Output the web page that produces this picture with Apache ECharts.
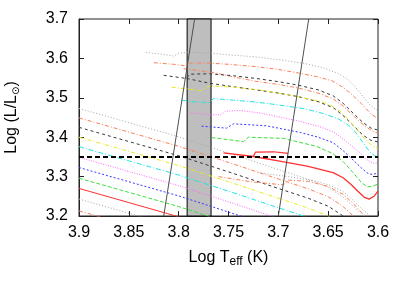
<!DOCTYPE html>
<html><head><meta charset="utf-8">
<script src="https://cdn.jsdelivr.net/npm/echarts@6/dist/echarts.min.js"></script>
<style>html,body{margin:0;padding:0;background:#fff}#c{width:407px;height:284px}</style>
</head><body><div id="c"></div><script>
// ---- axis ticks ----
const xTickLabels = ['3.6','3.65','3.7','3.75','3.8','3.85','3.9'];
const yTickLabels = ['3.2','3.3','3.4','3.5','3.6','3.7'];
// ---- reference features ----
const bandEdges = [3.7915, 3.7675];
const refLum = 3.35;
const refLine = [[3.9, refLum], [3.6, refLum]];
const edgeLineA = [[3.815, 3.2], [3.784, 3.7]];
const edgeLineB = [[3.700, 3.2], [3.6695, 3.7]];
// ---- upper tracks [logTeff, logL] ----
const upGray = [[3.833,3.615],[3.818,3.611],[3.805,3.606],[3.800,3.613],[3.790,3.616],[3.770,3.614],[3.750,3.609],[3.723,3.604],[3.700,3.597],[3.673,3.587],[3.655,3.576],[3.640,3.562],[3.630,3.546],[3.623,3.528],[3.615,3.503],[3.608,3.482],[3.600,3.466]];
const upOrange = [[3.825,3.589],[3.805,3.585],[3.792,3.581],[3.788,3.588],[3.769,3.588],[3.750,3.585],[3.722,3.579],[3.700,3.572],[3.680,3.563],[3.660,3.553],[3.646,3.543],[3.636,3.528],[3.626,3.508],[3.615,3.481],[3.607,3.459],[3.600,3.447]];
const upOrange2 = [[3.795,3.574],[3.765,3.564],[3.745,3.553],[3.723,3.542],[3.700,3.534],[3.680,3.525],[3.660,3.512],[3.645,3.497],[3.635,3.479],[3.625,3.455],[3.615,3.432],[3.606,3.416],[3.600,3.410]];
const upBlack = [[3.815,3.557],[3.792,3.549],[3.789,3.560],[3.769,3.561],[3.745,3.556],[3.722,3.549],[3.700,3.541],[3.680,3.532],[3.660,3.520],[3.645,3.505],[3.635,3.486],[3.625,3.461],[3.615,3.437],[3.607,3.423],[3.600,3.418]];
const upBlack2 = [[3.792,3.549],[3.769,3.537],[3.745,3.528],[3.722,3.520],[3.700,3.512],[3.680,3.503],[3.660,3.490],[3.645,3.475],[3.635,3.455],[3.625,3.430],[3.615,3.405],[3.607,3.392],[3.600,3.388]];
const upYellow = [[3.807,3.527],[3.790,3.522],[3.778,3.518],[3.769,3.530],[3.745,3.527],[3.722,3.521],[3.690,3.508],[3.656,3.490],[3.645,3.478],[3.636,3.462],[3.628,3.440],[3.620,3.415],[3.612,3.392],[3.605,3.377],[3.600,3.372]];
const upCyan = [[3.797,3.494],[3.785,3.490],[3.769,3.488],[3.765,3.498],[3.745,3.494],[3.722,3.489],[3.700,3.482],[3.673,3.472],[3.655,3.460],[3.640,3.447],[3.630,3.431],[3.623,3.414],[3.615,3.386],[3.608,3.362],[3.603,3.352],[3.600,3.351]];
const upMagenta = [[3.788,3.462],[3.769,3.457],[3.758,3.457],[3.753,3.466],[3.738,3.468],[3.720,3.462],[3.700,3.452],[3.678,3.440],[3.660,3.428],[3.645,3.414],[3.632,3.390],[3.618,3.360],[3.610,3.341],[3.605,3.334],[3.600,3.335]];
const upBlue = [[3.777,3.428],[3.752,3.423],[3.745,3.434],[3.712,3.429],[3.678,3.412],[3.660,3.400],[3.645,3.386],[3.635,3.366],[3.625,3.342],[3.615,3.318],[3.610,3.308],[3.605,3.305],[3.600,3.310]];
const upGreen = [[3.767,3.399],[3.735,3.389],[3.730,3.400],[3.695,3.397],[3.662,3.377],[3.645,3.358],[3.635,3.338],[3.625,3.310],[3.617,3.286],[3.611,3.274],[3.606,3.275],[3.600,3.281]];
const upRed = [[3.755,3.360],[3.725,3.351],[3.700,3.340],[3.670,3.326],[3.645,3.310],[3.635,3.297],[3.627,3.280],[3.620,3.262],[3.614,3.248],[3.609,3.243],[3.604,3.250],[3.600,3.263]];
const upRedLoop = [[3.725,3.351],[3.723,3.362],[3.705,3.363],[3.690,3.359]];
// ---- lower tracks ----
const loGray = [[3.900,3.473],[3.850,3.437],[3.800,3.401],[3.750,3.360],[3.700,3.318],[3.670,3.293],[3.650,3.273],[3.635,3.248],[3.620,3.213],[3.610,3.190]];
const loOrange = [[3.900,3.449],[3.850,3.413],[3.800,3.377],[3.750,3.336],[3.700,3.294],[3.670,3.269],[3.650,3.249],[3.635,3.224],[3.620,3.189]];
const loBlack = [[3.900,3.425],[3.850,3.389],[3.800,3.353],[3.750,3.312],[3.700,3.270],[3.670,3.245],[3.650,3.225],[3.635,3.200],[3.620,3.165]];
const loYellow = [[3.900,3.400],[3.850,3.364],[3.800,3.328],[3.750,3.287],[3.700,3.245],[3.670,3.220],[3.650,3.200],[3.635,3.175]];
const loCyan = [[3.900,3.376],[3.850,3.340],[3.800,3.304],[3.750,3.263],[3.700,3.221],[3.670,3.196]];
const loMagenta = [[3.900,3.349],[3.850,3.313],[3.800,3.277],[3.750,3.236],[3.700,3.194]];
const loBlue = [[3.900,3.323],[3.850,3.287],[3.800,3.251],[3.750,3.210],[3.700,3.168]];
const loGreen = [[3.900,3.296],[3.850,3.260],[3.800,3.224],[3.750,3.183]];
const loRed = [[3.900,3.270],[3.850,3.234],[3.800,3.198]];
const loGray2 = [[3.900,3.243],[3.850,3.207],[3.800,3.171]];
const loOrange2 = [[3.900,3.213],[3.850,3.177]];
const loOrangeB = [[3.760,3.300],[3.740,3.292],[3.728,3.287],[3.695,3.279],[3.690,3.291],[3.670,3.288],[3.650,3.275],[3.635,3.255],[3.625,3.232],[3.615,3.205],[3.608,3.190]];
const loGrayB = [[3.720,3.310],[3.690,3.300],[3.665,3.290],[3.648,3.278],[3.635,3.262],[3.625,3.240],[3.615,3.215],[3.605,3.195]];

const C = {gray:'#a4a4a4', orange:'#f88058', black:'#383838', yellow:'#e8e820', cyan:'#20e4e4', magenta:'#ff66ff', blue:'#3838ff', green:'#40dc40', red:'#ff3030'};
const T = {gray:[1,2], orange:[4,2,1,2], black:[3,3], yellow:[4,2,1,2], cyan:[5,2,1,2], magenta:[1,1.5], blue:[2,2], green:[4,2], red:'solid'};

function track(data, key, w) {
  return {type:'line', data:data, symbol:'none', showSymbol:false, silent:true, clip:true, z:3,
    lineStyle:{color:C[key], type:T[key], width:w||1}, xAxisIndex:0, yAxisIndex:0};
}

const series = [
  {type:'line', data:[], xAxisIndex:0, yAxisIndex:0, z:1, silent:true,
   markArea:{silent:true, itemStyle:{color:'#bebebe', borderColor:'#000', borderWidth:1},
     data:[[{xAxis:bandEdges[0]},{xAxis:bandEdges[1]}]]}},
  track(loGray,'gray'), track(loOrange,'orange'), track(loBlack,'black'), track(loYellow,'yellow'),
  track(loCyan,'cyan'), track(loMagenta,'magenta'), track(loBlue,'blue'), track(loGreen,'green'),
  track(loRed,'red'), track(loGray2,'gray'), track(loOrange2,'orange'),
  track(loOrangeB,'orange'), track(loGrayB,'gray'),
  track(upGray,'gray'), track(upOrange,'orange'), track(upOrange2,'orange'), track(upBlack,'black'),
  track(upBlack2,'black'), track(upYellow,'yellow'), track(upCyan,'cyan'), track(upMagenta,'magenta'),
  track(upBlue,'blue'), track(upGreen,'green'), track(upRed,'red',1.3), track(upRedLoop,'red',1.2),
  {type:'line', data:edgeLineA, symbol:'none', silent:true, z:5, lineStyle:{color:'#505050', width:1}},
  {type:'line', data:edgeLineB, symbol:'none', silent:true, z:5, lineStyle:{color:'#505050', width:1}},
  {type:'line', data:refLine, symbol:'none', silent:true, z:6, lineStyle:{color:'#000', width:2, type:[5,3]}}
];

const font = 'Liberation Sans, Arial, sans-serif';
const chart = echarts.init(document.getElementById('c'), null, {renderer:'canvas'});
chart.setOption({
  animation:false,
  backgroundColor:'#fff',
  grid:{left:79, right:29, top:19, bottom:68, outerBoundsMode:'none', containLabel:false, show:true, borderColor:'#222', borderWidth:1, backgroundColor:'transparent'},
  xAxis:[{
    type:'value', min:3.6, max:3.9, interval:0.05, inverse:true,
    axisLine:{show:true, lineStyle:{color:'#222'}},
    axisTick:{show:true, inside:true, length:5, lineStyle:{color:'#222'}},
    splitLine:{show:false},
    axisLabel:{margin:9, color:'#000', fontFamily:font, fontSize:16,
      formatter:function(v){return xTickLabels[Math.round((v-3.6)/0.05)];}},
    name:'{a|Log T}{s|eff}{a| (K)}', nameLocation:'middle', nameGap:31,
    nameTextStyle:{rich:{a:{fontFamily:font, fontSize:16, color:'#000'}, s:{fontFamily:font, fontSize:12, color:'#000', padding:[9,0,0,0]}}}
  },{
    type:'value', min:3.6, max:3.9, interval:0.05, inverse:true, position:'top',
    axisLine:{show:false}, axisLabel:{show:false}, splitLine:{show:false},
    axisTick:{show:true, inside:true, length:5, lineStyle:{color:'#222'}}
  }],
  yAxis:[{
    type:'value', min:3.2, max:3.7, interval:0.1,
    axisLine:{show:true, lineStyle:{color:'#222'}},
    axisTick:{show:true, inside:true, length:5, lineStyle:{color:'#222'}},
    splitLine:{show:false},
    axisLabel:{margin:11, color:'#000', fontFamily:font, fontSize:16,
      formatter:function(v){return yTickLabels[Math.round((v-3.2)/0.1)];}},
    name:'{a|Log (L/L}{s|⊙}{a|)}', nameLocation:'middle', nameGap:58,
    nameTextStyle:{rich:{a:{fontFamily:font, fontSize:16, color:'#000'}, s:{fontFamily:'DejaVu Sans', fontSize:10, color:'#000', padding:[8,0,0,0]}}}
  },{
    type:'value', min:3.2, max:3.7, interval:0.1, position:'right',
    axisLine:{show:false}, axisLabel:{show:false}, splitLine:{show:false},
    axisTick:{show:true, inside:true, length:5, lineStyle:{color:'#222'}}
  }],
  series:series
});
</script></body></html>
